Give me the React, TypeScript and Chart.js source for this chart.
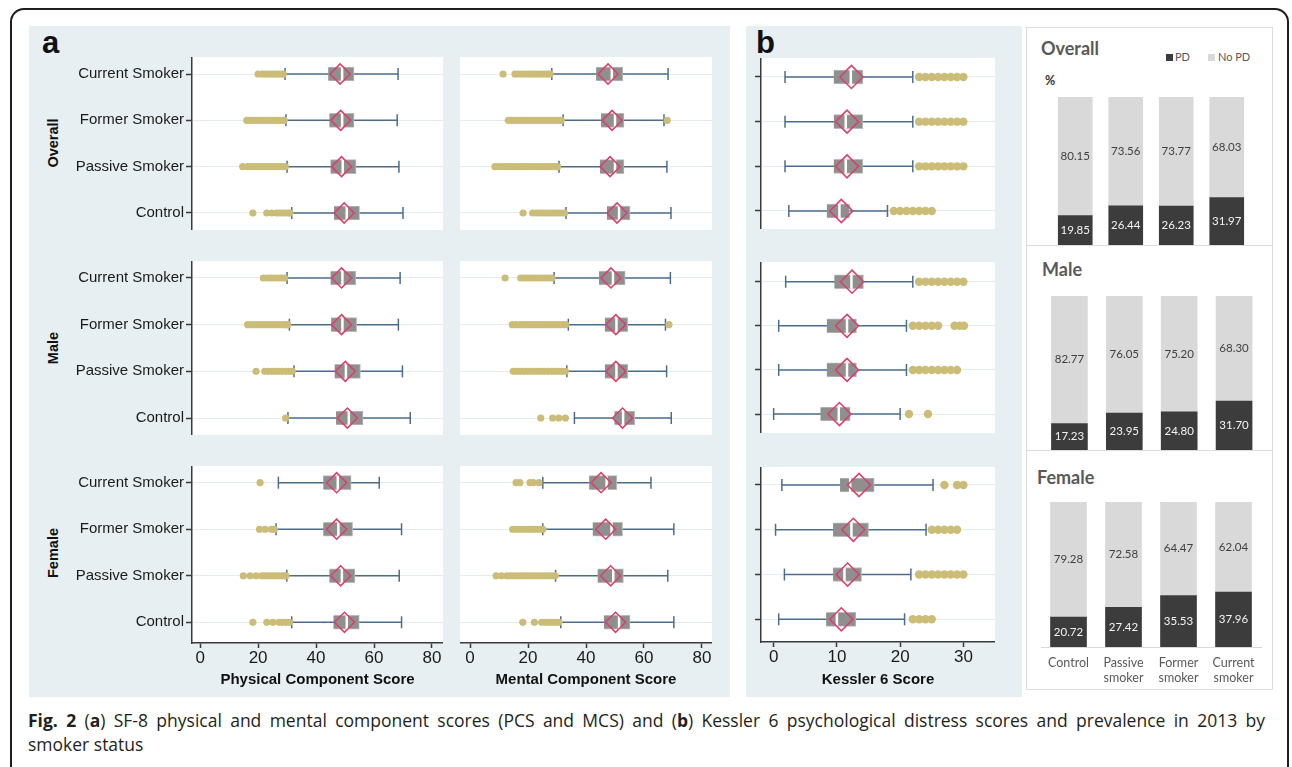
import React, { useEffect, useRef } from 'react';
import { Chart, registerables } from 'chart.js';

Chart.register(...registerables);

// ---------------- DATA ----------------
const GROUPS = ['Current Smoker', 'Former Smoker', 'Passive Smoker', 'Control'];

// each row: [lower whisker, Q1, median, Q3, upper whisker, mean]
const PCS_OVERALL = [
  [29.3, 44.2, 49.0, 53.1, 68.3, 48.3],
  [29.6, 44.6, 49.0, 53.1, 68.0, 48.5],
  [30.0, 45.0, 49.2, 53.8, 68.6, 48.8],
  [31.6, 46.2, 50.6, 55.0, 70.0, 49.7],
];
const PCS_OVERALL_OUT = [
  [20.0, 21.4, 22.4, 23.4, 24.3, 25.2, 26.1, 27.0, 27.9, 28.7],
  [16.1, 17.0, 18.0, 19.0, 20.0, 21.0, 22.0, 23.0, 24.0, 25.0, 26.0, 27.0, 28.0, 29.0],
  [14.7, 16.3, 17.4, 18.4, 19.4, 20.4, 21.4, 22.4, 23.4, 24.4, 25.4, 26.4, 27.4, 28.4, 29.4],
  [18.2, 23.0, 24.7, 26.4, 27.4, 28.4, 29.4, 30.4, 31.0],
];
const MCS_OVERALL = [
  [28.2, 43.5, 48.9, 52.7, 68.3, 47.6],
  [32.1, 45.2, 50.0, 53.1, 66.9, 49.0],
  [30.7, 44.8, 50.0, 53.1, 67.9, 48.3],
  [33.1, 47.2, 51.4, 55.2, 69.3, 50.7],
];
const MCS_OVERALL_OUT = [
  [11.4, 15.5, 16.6, 17.8, 19.0, 20.2, 21.3, 22.4, 23.5, 24.6, 25.7, 26.8, 27.6],
  [13.2, 14.2, 15.3, 16.4, 17.5, 18.6, 19.7, 20.8, 21.9, 23.0, 24.1, 25.2, 26.3, 27.4, 28.5, 29.6, 30.7, 31.5, 68.0],
  [8.6, 9.7, 10.9, 12.1, 13.2, 14.3, 15.4, 16.5, 17.6, 18.7, 19.8, 20.9, 22.0, 23.1, 24.2, 25.3, 26.4, 27.5, 28.6, 29.7, 30.2],
  [18.3, 21.6, 22.8, 24.0, 25.1, 26.2, 27.3, 28.4, 29.5, 30.6, 31.7, 32.6],
];
const K6_OVERALL = [
  [1.8, 9.5, 12.2, 14.1, 22.0, 12.3],
  [1.8, 9.5, 11.4, 14.1, 22.0, 11.6],
  [1.8, 9.5, 11.4, 14.1, 22.0, 11.6],
  [2.4, 8.4, 10.4, 12.0, 18.0, 10.7],
];
const K6_OVERALL_OUT = [
  [23, 24, 25, 26, 27, 28, 29, 30],
  [23, 24, 25, 26, 27, 28, 29, 30],
  [23, 24, 25, 26, 27, 28, 29, 30],
  [19, 20, 21, 22, 23, 24, 25],
];

const PCS_MALE = [
  [30.0, 45.0, 49.1, 53.7, 69.0, 48.8],
  [30.8, 45.2, 49.1, 54.0, 68.4, 48.8],
  [32.4, 46.4, 50.3, 55.3, 69.8, 50.1],
  [30.3, 46.9, 51.3, 56.2, 72.5, 50.8],
];
const PCS_MALE_OUT = [
  [21.8, 23.2, 24.4, 25.6, 26.8, 28.0, 29.2],
  [16.4, 17.6, 18.8, 20.0, 21.2, 22.4, 23.6, 24.8, 26.0, 27.2, 28.4, 29.6, 30.2],
  [19.3, 22.3, 23.5, 24.7, 25.9, 27.1, 28.3, 29.5, 30.7, 31.8],
  [29.5],
];
const MCS_MALE = [
  [29.0, 44.5, 49.3, 53.5, 69.1, 48.6],
  [33.9, 46.5, 50.5, 54.4, 67.4, 50.3],
  [33.4, 46.5, 50.5, 54.4, 67.8, 50.3],
  [36.0, 49.8, 52.8, 56.8, 69.4, 52.6],
];
const MCS_MALE_OUT = [
  [12.1, 17.5, 18.7, 19.9, 21.1, 22.3, 23.5, 24.7, 25.9, 27.1, 28.3],
  [14.6, 15.9, 17.4, 18.6, 19.8, 21.0, 22.2, 23.4, 24.6, 25.8, 27.0, 28.2, 29.4, 30.6, 31.8, 33.0, 68.6],
  [14.9, 16.1, 17.3, 18.5, 19.7, 20.9, 22.1, 23.3, 24.5, 25.7, 26.9, 28.1, 29.3, 30.5, 31.7, 32.9],
  [24.4, 28.5, 30.6, 32.9],
];
const K6_MALE = [
  [1.9, 9.6, 12.3, 14.2, 22.0, 12.4],
  [0.8, 8.4, 11.6, 13.1, 21.0, 11.6],
  [0.8, 8.4, 11.6, 13.1, 21.0, 11.6],
  [0.0, 7.4, 10.3, 12.1, 20.0, 10.4],
];
const K6_MALE_OUT = [
  [23, 24, 25, 26, 27, 28, 29, 30],
  [22, 23, 24, 25, 26, 28.6, 29.4, 30.1],
  [22, 23, 24, 25, 26, 27, 28, 29],
  [21.4, 24.4],
];

const PCS_FEMALE = [
  [27.0, 42.5, 47.5, 52.1, 61.8, 47.1],
  [26.2, 42.5, 47.7, 52.6, 69.5, 47.1],
  [29.9, 44.6, 48.9, 53.4, 68.7, 48.5],
  [31.6, 46.0, 50.6, 54.9, 69.5, 49.8],
];
const PCS_FEMALE_OUT = [
  [20.7],
  [20.5, 22.4, 24.6, 25.6],
  [14.9, 17.2, 19.3, 21.3, 22.4, 23.5, 24.6, 25.7, 26.8, 27.9, 29.0, 29.6],
  [18.2, 23.0, 25.1, 27.2, 28.4, 29.6, 30.8],
];
const MCS_FEMALE = [
  [25.1, 41.1, 47.1, 50.6, 62.4, 45.2],
  [25.1, 42.3, 48.8, 52.6, 70.3, 46.8],
  [29.5, 44.0, 49.4, 52.9, 68.2, 48.5],
  [31.3, 46.2, 51.4, 55.2, 70.3, 50.2],
];
const MCS_FEMALE_OUT = [
  [15.9, 17.2, 20.7, 21.8, 23.8],
  [14.7, 15.9, 17.1, 18.3, 19.5, 20.7, 21.9, 23.1, 24.3, 25.1],
  [9.0, 10.9, 12.7, 13.8, 15.0, 16.2, 17.4, 18.6, 19.8, 21.0, 22.2, 23.4, 24.6, 25.8, 27.0, 28.2, 29.4],
  [18.2, 22.2, 24.7, 25.9, 27.1, 28.3, 29.5, 30.7],
];
const K6_FEMALE = [
  [1.3, 10.5, 12.1, 15.9, 25.2, 13.5],
  [0.3, 9.4, 12.3, 15.0, 24.1, 12.6],
  [1.7, 9.4, 11.2, 13.9, 21.7, 11.7],
  [0.8, 8.3, 10.0, 13.0, 20.7, 10.7],
];
const K6_FEMALE_OUT = [
  [27, 29, 30],
  [25, 26, 27, 28, 29],
  [23, 24, 25, 26, 27, 28, 29, 30],
  [22, 23, 24, 25],
];

const PCS_TICKS = [0, 20, 40, 60, 80];
const MCS_TICKS = [0, 20, 40, 60, 80];
const K6_TICKS = [0, 10, 20, 30];

const BAR_CATS = [['Control'], ['Passive', 'smoker'], ['Former', 'smoker'], ['Current', 'smoker']];
const PD_OVERALL = [19.85, 26.44, 26.23, 31.97];
const NOPD_OVERALL = [80.15, 73.56, 73.77, 68.03];
const PD_MALE = [17.23, 23.95, 24.8, 31.7];
const NOPD_MALE = [82.77, 76.05, 75.2, 68.3];
const PD_FEMALE = [20.72, 27.42, 35.53, 37.96];
const NOPD_FEMALE = [79.28, 72.58, 64.47, 62.04];

// ---------------- STYLE ----------------
const FONT = '"Liberation Sans", Arial, sans-serif';
const WHISK = '#4b6d8d';
const BOXC = '#8f8f8f';
const BOXB = '#b9b9b9';
const MEANC = '#d8416c';
const OUTC = '#cbbd77';
const GRID = '#e4ecf0';
const AXIS = '#3a3a3a';
const PANEL = '#e8eff2';
const PD_C = '#3c3c3c';
const NOPD_C = '#d9d9d9';

const plotBg = {
  id: 'plotBg',
  beforeDraw(chart: any) {
    const { ctx, chartArea: a } = chart;
    ctx.save();
    ctx.fillStyle = '#ffffff';
    ctx.fillRect(a.left, a.top, a.right - a.left, a.bottom - a.top);
    ctx.restore();
  },
};

type BoxProps = {
  stats: number[][];
  outs: number[][];
  left: number;
  top: number;
  width: number;
  height: number;
  xMin: number;
  xMax: number;
  xTicks: number[];
  yMin: number;
  yMax: number;
  yLabels: boolean;
  yLine: boolean;
  yW: number;
  xTitle?: string;
  xH?: number;
  diamond: number;
  outR: number;
};

function BoxPlot(p: BoxProps) {
  const ref = useRef<HTMLCanvasElement>(null);
  useEffect(() => {
    const datasets: any[] = [];
    p.stats.forEach((r, i) => {
      datasets.push({
        type: 'line',
        data: [
          { x: r[0], y: i + 1 },
          { x: r[4], y: i + 1 },
        ],
        borderColor: WHISK,
        borderWidth: 1.5,
        pointRadius: 0,
        order: 7,
      });
    });
    datasets.push({
      type: 'scatter',
      data: p.stats.flatMap((r, i) => [
        { x: r[0], y: i + 1 },
        { x: r[4], y: i + 1 },
      ]),
      pointStyle: 'line',
      pointRotation: 90,
      pointRadius: 6,
      pointBorderColor: WHISK,
      pointBorderWidth: 1.5,
      order: 6,
    });
    datasets.push({
      type: 'scatter',
      data: p.outs.flatMap((a, i) => a.map((v) => ({ x: v, y: i + 1 }))),
      pointStyle: 'circle',
      pointRadius: p.outR,
      pointBackgroundColor: OUTC,
      pointBorderColor: OUTC,
      pointBorderWidth: 0,
      order: 5,
    });
    datasets.push({
      type: 'bar',
      indexAxis: 'y',
      data: p.stats.map((r, i) => ({ x: [r[1], r[3]], y: i + 1 })),
      backgroundColor: BOXC,
      borderColor: BOXB,
      borderWidth: 1,
      barThickness: 14,
      order: 3,
    });
    datasets.push({
      type: 'scatter',
      data: p.stats.map((r, i) => ({ x: r[2], y: i + 1 })),
      pointStyle: 'line',
      pointRotation: 90,
      pointRadius: 7,
      pointBorderColor: '#ffffff',
      pointBorderWidth: 2.5,
      order: 2,
    });
    datasets.push({
      type: 'scatter',
      data: p.stats.map((r, i) => ({ x: r[5], y: i + 1 })),
      pointStyle: 'rectRot',
      pointRadius: p.diamond,
      pointBorderColor: MEANC,
      pointBorderWidth: 1.6,
      pointBackgroundColor: 'rgba(0,0,0,0)',
      order: 1,
    });

    const chart = new Chart(ref.current as HTMLCanvasElement, {
      type: 'scatter',
      data: { datasets },
      options: {
        responsive: false,
        animation: false,
        events: [],
        layout: { padding: 0, autoPadding: false },
        plugins: { legend: { display: false }, tooltip: { enabled: false } },
        scales: {
          x: {
            type: 'linear',
            offset: false,
            min: p.xMin,
            max: p.xMax,
            display: !!p.xTitle,
            afterBuildTicks: (s: any) => {
              s.ticks = p.xTicks.map((v) => ({ value: v }));
            },
            grid: { offset: false, drawOnChartArea: false, tickLength: 5, tickColor: AXIS, tickWidth: 1.5 },
            border: { color: AXIS, width: 1.5 },
            ticks: { font: { family: FONT, size: 17 }, color: '#1a1a1a', padding: 0 },
            title: {
              display: !!p.xTitle,
              text: p.xTitle || '',
              font: { family: FONT, size: 15, weight: 'bold' },
              color: '#111111',
              padding: { top: 0, bottom: 3 },
            },
            afterFit: (s: any) => {
              s.height = p.xH || 0;
              s.paddingLeft = 0;
              s.paddingRight = 0;
              s.paddingTop = 0;
              s.paddingBottom = 0;
            },
          },
          y: {
            type: 'linear',
            offset: false,
            reverse: true,
            min: p.yMin,
            max: p.yMax,
            afterBuildTicks: (s: any) => {
              s.ticks = GROUPS.map((_, i) => ({ value: i + 1 }));
            },
            ticks: {
              display: p.yLabels,
              callback: (v: any) => GROUPS[Number(v) - 1],
              font: { family: FONT, size: 15 },
              color: '#1a1a1a',
              padding: 2,
            },
            grid: {
              offset: false,
              color: GRID,
              lineWidth: 1,
              drawTicks: p.yLine,
              tickLength: 6,
              tickColor: AXIS,
              tickWidth: 1.5,
            },
            border: { display: p.yLine, color: AXIS, width: 1.5 },
            afterFit: (s: any) => {
              s.width = p.yW;
              s.paddingTop = 0;
              s.paddingBottom = 0;
              s.paddingLeft = 0;
              s.paddingRight = 0;
            },
          },
        },
      } as any,
      plugins: [plotBg],
    });
    return () => chart.destroy();
  }, []);
  return (
    <canvas
      ref={ref}
      width={p.width}
      height={p.height}
      style={{ position: 'absolute', left: p.left, top: p.top, width: p.width, height: p.height }}
    />
  );
}

const barLabels = {
  id: 'barLabels',
  afterDatasetsDraw(chart: any) {
    const ctx = chart.ctx;
    chart.data.datasets.forEach((ds: any, di: number) => {
      const meta = chart.getDatasetMeta(di);
      meta.data.forEach((el: any, i: number) => {
        const c = el.getCenterPoint();
        ctx.save();
        ctx.font = '11.5px Lato, sans-serif';
        ctx.fillStyle = di === 0 ? '#f4f4f4' : '#404040';
        ctx.textAlign = 'center';
        ctx.textBaseline = 'middle';
        ctx.fillText(Number(ds.data[i]).toFixed(2), c.x, c.y);
        ctx.restore();
      });
    });
  },
};

type StackProps = {
  pd: number[];
  nopd: number[];
  left: number;
  top: number;
  width: number;
  height: number;
  padding: { left: number; right: number; top: number; bottom: number };
  thick: number;
  showX: boolean;
  xH: number;
};

function StackBars(p: StackProps) {
  const ref = useRef<HTMLCanvasElement>(null);
  useEffect(() => {
    const chart = new Chart(ref.current as HTMLCanvasElement, {
      type: 'bar',
      data: {
        labels: BAR_CATS as any,
        datasets: [
          { label: 'PD', data: p.pd, backgroundColor: PD_C, barThickness: p.thick },
          { label: 'No PD', data: p.nopd, backgroundColor: NOPD_C, barThickness: p.thick },
        ],
      },
      options: {
        responsive: false,
        animation: false,
        events: [],
        layout: { padding: p.padding },
        plugins: { legend: { display: false }, tooltip: { enabled: false } },
        scales: {
          x: {
            stacked: true,
            display: p.showX,
            grid: { display: false, drawTicks: false, tickLength: 0 },
            border: { display: true, color: '#d9d9d9', width: 1 },
            ticks: {
              font: { family: 'Lato, sans-serif', size: 12.5, lineHeight: 1.23 },
              color: '#595959',
              padding: 8,
            },
            afterFit: (s: any) => {
              s.height = p.xH;
            },
          },
          y: { stacked: true, display: false, min: 0, max: 100 },
        },
      } as any,
      plugins: [barLabels],
    });
    return () => chart.destroy();
  }, []);
  return (
    <canvas
      ref={ref}
      width={p.width}
      height={p.height}
      style={{ position: 'absolute', left: p.left, top: p.top, width: p.width, height: p.height }}
    />
  );
}

const abs = (s: any): React.CSSProperties => ({ position: 'absolute', ...s });

export default function App() {
  const rows = [
    { top: 57, bottom: 230, yMin: 0.633, yMax: 4.367 },
    { top: 261, bottom: 435, yMin: 0.636, yMax: 4.364 },
    { top: 466, bottom: 643, yMin: 0.641, yMax: 4.445 },
  ];
  const kRows = [
    { top: 58, bottom: 229, yMin: 0.575, yMax: 4.403 },
    { top: 262, bottom: 433, yMin: 0.553, yMax: 4.43 },
    { top: 467, bottom: 642, yMin: 0.598, yMax: 4.507 },
  ];
  const pcs = [
    [PCS_OVERALL, PCS_OVERALL_OUT],
    [PCS_MALE, PCS_MALE_OUT],
    [PCS_FEMALE, PCS_FEMALE_OUT],
  ];
  const mcs = [
    [MCS_OVERALL, MCS_OVERALL_OUT],
    [MCS_MALE, MCS_MALE_OUT],
    [MCS_FEMALE, MCS_FEMALE_OUT],
  ];
  const k6 = [
    [K6_OVERALL, K6_OVERALL_OUT],
    [K6_MALE, K6_MALE_OUT],
    [K6_FEMALE, K6_FEMALE_OUT],
  ];
  const BOTTOM = 692;
  const groupLabels = [
    { t: 'Overall', y: 143 },
    { t: 'Male', y: 348 },
    { t: 'Female', y: 553 },
  ];

  return (
    <div
      style={{
        position: 'fixed',
        left: 0,
        top: 0,
        width: 1292,
        height: 767,
        overflow: 'hidden',
        background: '#ffffff',
        fontFamily: FONT,
      }}
    >
      {/* outer frame */}
      <div
        style={abs({
          left: 10,
          top: 8,
          width: 1279,
          height: 800,
          border: '2px solid #1e1e1e',
          borderRadius: 14,
          boxSizing: 'border-box',
        })}
      />
      {/* panel backgrounds */}
      <div style={abs({ left: 29, top: 26, width: 701, height: 671, background: PANEL })} />
      <div style={abs({ left: 746, top: 26, width: 276, height: 671, background: PANEL })} />
      <div
        style={abs({
          left: 1026,
          top: 27,
          width: 247,
          height: 219,
          border: '1px solid #dcdcdc',
          boxSizing: 'border-box',
          background: '#fff',
        })}
      />
      <div
        style={abs({
          left: 1026,
          top: 245,
          width: 247,
          height: 206,
          border: '1px solid #dcdcdc',
          boxSizing: 'border-box',
          background: '#fff',
        })}
      />
      <div
        style={abs({
          left: 1026,
          top: 450,
          width: 247,
          height: 240,
          border: '1px solid #dcdcdc',
          boxSizing: 'border-box',
          background: '#fff',
        })}
      />

      {/* panel letters */}
      <div style={abs({ left: 42, top: 27, fontSize: 31, lineHeight: '31px', fontWeight: 'bold', color: '#111' })}>a</div>
      <div style={abs({ left: 756, top: 27, fontSize: 31, lineHeight: '31px', fontWeight: 'bold', color: '#111' })}>b</div>

      {/* group labels */}
      {groupLabels.map((g) => (
        <div
          key={g.t}
          style={abs({
            left: 53,
            top: g.y,
            transform: 'translate(-50%, -50%) rotate(-90deg)',
            fontSize: 14.5,
            fontWeight: 'bold',
            color: '#111',
            whiteSpace: 'nowrap',
          })}
        >
          {g.t}
        </div>
      ))}

      {/* box plots */}
      {rows.map((r, i) => {
        const last = i === 2;
        const h = last ? BOTTOM - r.top : r.bottom - r.top;
        return (
          <React.Fragment key={'r' + i}>
            <BoxPlot
              stats={pcs[i][0] as number[][]}
              outs={pcs[i][1] as number[][]}
              left={29}
              top={r.top}
              width={414}
              height={h}
              xMin={-2.8}
              xMax={83.8}
              xTicks={PCS_TICKS}
              yMin={r.yMin}
              yMax={r.yMax}
              yLabels={true}
              yLine={true}
              yW={163}
              xTitle={last ? 'Physical Component Score' : undefined}
              xH={last ? BOTTOM - r.bottom : 0}
              diamond={10}
              outR={3.6}
            />
            <BoxPlot
              stats={mcs[i][0] as number[][]}
              outs={mcs[i][1] as number[][]}
              left={460}
              top={r.top}
              width={252}
              height={h}
              xMin={-3.45}
              xMax={83.45}
              xTicks={MCS_TICKS}
              yMin={r.yMin}
              yMax={r.yMax}
              yLabels={false}
              yLine={false}
              yW={0}
              xTitle={last ? 'Mental Component Score' : undefined}
              xH={last ? BOTTOM - r.bottom : 0}
              diamond={10}
              outR={3.6}
            />
          </React.Fragment>
        );
      })}
      {kRows.map((r, i) => {
        const last = i === 2;
        const h = last ? BOTTOM - r.top : r.bottom - r.top;
        return (
          <BoxPlot
            key={'k' + i}
            stats={k6[i][0] as number[][]}
            outs={k6[i][1] as number[][]}
            left={746}
            top={r.top}
            width={249}
            height={h}
            xMin={-2}
            xMax={35}
            xTicks={K6_TICKS}
            yMin={r.yMin}
            yMax={r.yMax}
            yLabels={false}
            yLine={true}
            yW={15}
            xTitle={last ? 'Kessler 6 Score' : undefined}
            xH={last ? BOTTOM - r.bottom : 0}
            diamond={11.5}
            outR={4.2}
          />
        );
      })}

      {/* stacked bar panels */}
      <div style={abs({ left: 1041, top: 37, fontFamily: 'Lato, sans-serif', fontSize: 18, lineHeight: '22px', fontWeight: 'bold', color: '#595959' })}>
        Overall
      </div>
      <div style={abs({ left: 1045, top: 73, fontFamily: 'Lato, sans-serif', fontSize: 12.5, lineHeight: '16px', fontWeight: 'bold', color: '#333' })}>%</div>
      <div
        style={abs({
          left: 1166,
          top: 50,
          display: 'flex',
          alignItems: 'center',
          fontFamily: 'Lato, sans-serif',
          fontSize: 11,
          lineHeight: '14px',
          color: '#595959',
          whiteSpace: 'nowrap',
        })}
      >
        <span style={{ display: 'inline-block', width: 7, height: 7, background: PD_C, marginRight: 2 }} />
        PD
        <span style={{ display: 'inline-block', width: 7, height: 7, background: NOPD_C, marginLeft: 18, marginRight: 3 }} />
        No PD
      </div>
      <StackBars
        pd={PD_OVERALL}
        nopd={NOPD_OVERALL}
        left={1027}
        top={28}
        width={245}
        height={217}
        padding={{ left: 23, right: 20, top: 69, bottom: 0 }}
        thick={34}
        showX={false}
        xH={0}
      />

      <div style={abs({ left: 1042, top: 258, fontFamily: 'Lato, sans-serif', fontSize: 18, lineHeight: '22px', fontWeight: 'bold', color: '#595959' })}>
        Male
      </div>
      <StackBars
        pd={PD_MALE}
        nopd={NOPD_MALE}
        left={1027}
        top={247}
        width={245}
        height={203}
        padding={{ left: 15, right: 10.5, top: 49, bottom: 0 }}
        thick={36}
        showX={false}
        xH={0}
      />

      <div style={abs({ left: 1037, top: 466, fontFamily: 'Lato, sans-serif', fontSize: 18, lineHeight: '22px', fontWeight: 'bold', color: '#595959' })}>
        Female
      </div>
      <StackBars
        pd={PD_FEMALE}
        nopd={NOPD_FEMALE}
        left={1027}
        top={452}
        width={245}
        height={237}
        padding={{ left: 14, right: 11, top: 50, bottom: 0 }}
        thick={36}
        showX={true}
        xH={42}
      />

      {/* caption */}
      <div
        style={abs({
          left: 28,
          top: 708,
          width: 1237,
          fontFamily: '"Open Sans", sans-serif',
          fontSize: 17.5,
          lineHeight: '24px',
          color: '#231f20',
          whiteSpace: 'nowrap',
          textAlign: 'justify',
          textAlignLast: 'justify',
        })}
      >
        <b>Fig. 2</b> (<b>a</b>) SF-8 physical and mental component scores (PCS and MCS) and (<b>b</b>) Kessler 6 psychological
        distress scores and prevalence in 2013 by
      </div>
      <div
        style={abs({
          left: 28,
          top: 732,
          fontFamily: '"Open Sans", sans-serif',
          fontSize: 17.5,
          lineHeight: '24px',
          color: '#231f20',
          whiteSpace: 'nowrap',
        })}
      >
        smoker status
      </div>
    </div>
  );
}
